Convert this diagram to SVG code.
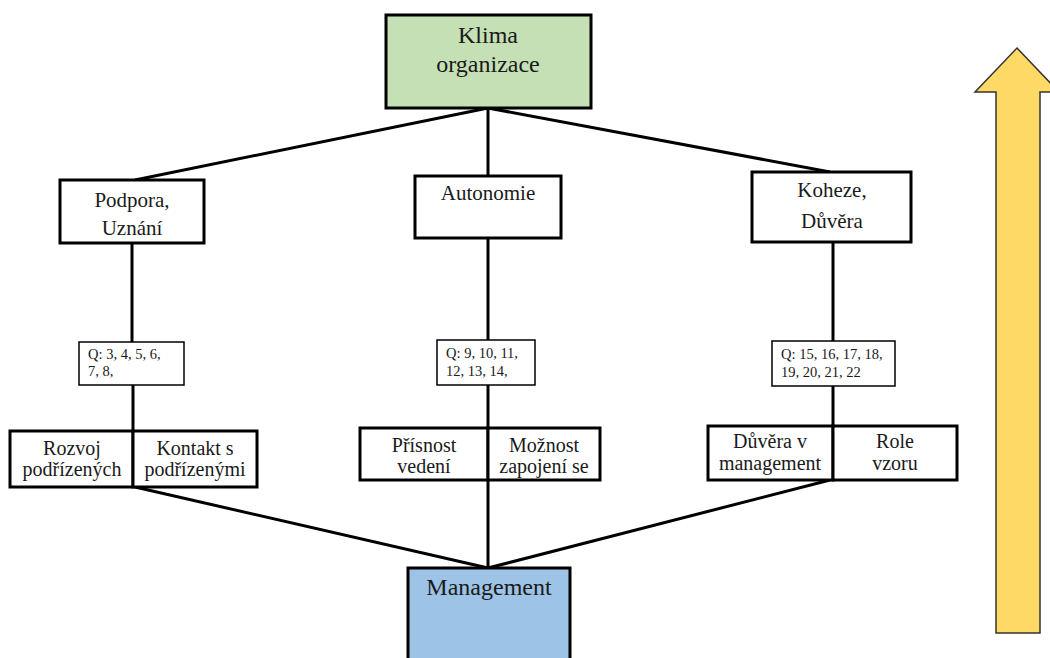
<svg xmlns="http://www.w3.org/2000/svg" width="1050" height="658" viewBox="0 0 1050 658">
<style>
text{font-family:"Liberation Serif","Times New Roman",serif;fill:#1a1a1a;text-anchor:middle}
.box{fill:#fff;stroke:#000;stroke-width:3}
.q{fill:#fff;stroke:#000;stroke-width:1.5}
.ln{stroke:#000;stroke-width:3;fill:none}
.t24{font-size:24px}
.t21{font-size:21px}
.t20{font-size:20px}
.t14{font-size:14.5px;text-anchor:start}
</style>
<rect width="1050" height="658" fill="#fff"/>
<g id="connectors">
<line class="ln" x1="488" y1="108" x2="135" y2="180"/>
<line class="ln" x1="488" y1="108" x2="488" y2="176"/>
<line class="ln" x1="488" y1="108" x2="830" y2="172"/>
<line class="ln" x1="132" y1="243" x2="132" y2="342"/>
<line class="ln" x1="133" y1="385" x2="133" y2="487"/>
<line class="ln" x1="135" y1="487" x2="488" y2="568"/>
<line class="ln" x1="488" y1="238" x2="488" y2="340"/>
<line class="ln" x1="488" y1="385" x2="488" y2="568"/>
<line class="ln" x1="833" y1="242" x2="833" y2="341"/>
<line class="ln" x1="833" y1="386" x2="833" y2="480"/>
<line class="ln" x1="830" y1="480" x2="488" y2="568"/>
</g>
<g id="klima">
<rect x="386" y="15" width="205" height="93" fill="#c5e0b4" stroke="#000" stroke-width="3"/>
<text class="t24" x="488" y="43">Klima</text>
<text class="t24" x="488" y="72">organizace</text>
</g>
<g id="podpora">
<rect class="box" x="60" y="180" width="144" height="63"/>
<text class="t21" x="132" y="207">Podpora,</text>
<text class="t21" x="132" y="235">Uznání</text>
</g>
<g id="autonomie">
<rect class="box" x="415" y="176" width="146" height="62"/>
<text class="t21" x="488" y="200">Autonomie</text>
</g>
<g id="koheze">
<rect class="box" x="752" y="172" width="159" height="70"/>
<text class="t21" x="832" y="197">Koheze,</text>
<text class="t21" x="832" y="228">Důvěra</text>
</g>
<g id="q1">
<rect class="q" x="79" y="342" width="105" height="43"/>
<text class="t14" x="88" y="359">Q: 3, 4, 5, 6,</text>
<text class="t14" x="88" y="376">7, 8,</text>
</g>
<g id="q2">
<rect class="q" x="437" y="340" width="98" height="45"/>
<text class="t14" x="446" y="358">Q: 9, 10, 11,</text>
<text class="t14" x="446" y="376">12, 13, 14,</text>
</g>
<g id="q3">
<rect class="q" x="772" y="341" width="123" height="45"/>
<text class="t14" x="781" y="359">Q: 15, 16, 17, 18,</text>
<text class="t14" x="781" y="377">19, 20, 21, 22</text>
</g>
<g id="rozvoj">
<rect class="box" x="10" y="431" width="123" height="56"/>
<text class="t20" x="72" y="455">Rozvoj</text>
<text class="t20" x="72" y="476">podřízených</text>
</g>
<g id="kontakt">
<rect class="box" x="133" y="431" width="124" height="56"/>
<text class="t20" x="195" y="455">Kontakt s</text>
<text class="t20" x="195" y="476">podřízenými</text>
</g>
<g id="prisnost">
<rect class="box" x="360" y="428" width="128" height="52"/>
<text class="t20" x="424" y="452">Přísnost</text>
<text class="t20" x="424" y="473">vedení</text>
</g>
<g id="moznost">
<rect class="box" x="488" y="428" width="112" height="52"/>
<text class="t20" x="544" y="452">Možnost</text>
<text class="t20" x="544" y="473">zapojení se</text>
</g>
<g id="duvera">
<rect class="box" x="708" y="426" width="125" height="54"/>
<text class="t20" x="770" y="448">Důvěra v</text>
<text class="t20" x="770" y="470">management</text>
</g>
<g id="role">
<rect class="box" x="833" y="426" width="124" height="54"/>
<text class="t20" x="895" y="448">Role</text>
<text class="t20" x="895" y="470">vzoru</text>
</g>
<g id="management">
<rect x="408" y="568" width="162" height="100" fill="#9dc3e6" stroke="#000" stroke-width="3"/>
<text class="t24" x="489" y="595">Management</text>
</g>
<g id="arrow">
<polygon points="1017,48 1059,92 1040,92 1040,633 996,633 996,92 975,92" fill="#ffd966" stroke="#333" stroke-width="1.5"/>
</g>
</svg>
